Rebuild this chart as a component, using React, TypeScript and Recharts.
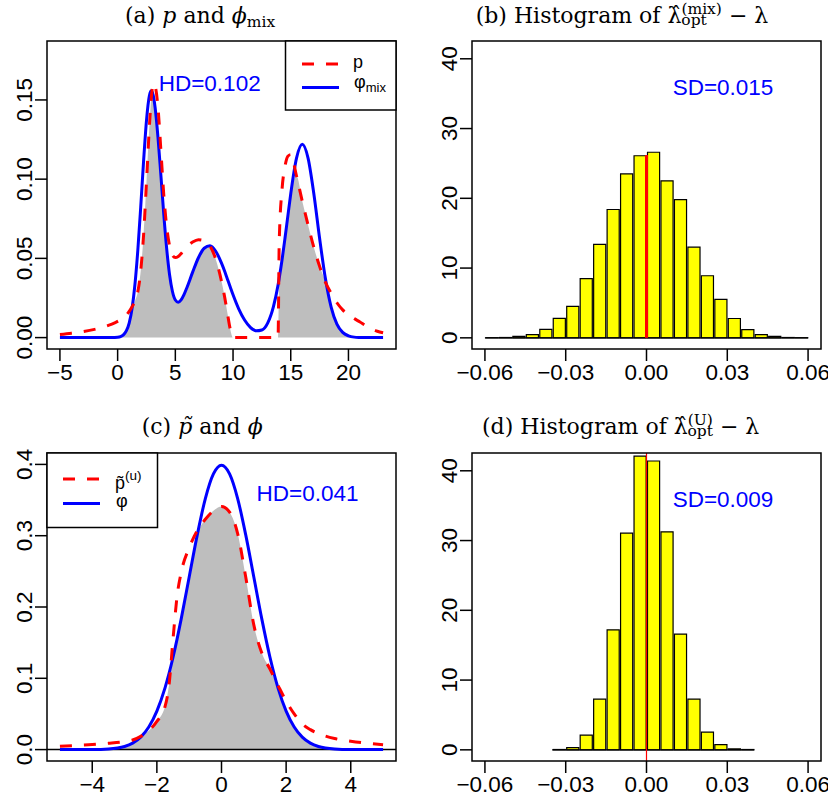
import React from 'react';
import { ComposedChart, Line, Area, Bar, XAxis, YAxis, ReferenceLine } from 'recharts';

const W = 828;
const H = 801;
const SANS = '"Liberation Sans", Arial, Helvetica, sans-serif';
const SERIF = '"DejaVu Serif", "Liberation Serif", serif';

// ---- panel (a): p and phi_mix ----
const xA = [
  -5, -4, -3, -2, -1, -0.5, 0, 0.25, 0.5, 0.75, 1, 1.25, 1.5, 1.75, 2, 2.25, 2.5, 2.75, 2.9, 3, 3.15,
  3.25, 3.5, 3.75, 4, 4.25, 4.5, 4.75, 5, 5.25, 5.5, 5.75, 6, 6.5, 7, 7.5, 8, 8.5, 9, 9.25, 9.5, 9.75,
  10, 10.5, 11, 11.5, 12, 12.5, 13, 13.5, 13.9, 14, 14.25, 14.5, 14.75, 15, 15.5, 16, 16.5, 17, 17.5,
  18, 18.5, 19, 19.5, 20, 20.5, 21, 21.5, 22, 22.5, 23,
];
const pA = [
  0.002, 0.0028, 0.0038, 0.0052, 0.0072, 0.0085, 0.0102, 0.0112, 0.0125, 0.0142, 0.0165, 0.0195, 0.023,
  0.029, 0.042, 0.065, 0.098, 0.133, 0.15, 0.157, 0.1605, 0.159, 0.145, 0.118, 0.09, 0.07, 0.058, 0.052,
  0.0505, 0.0512, 0.053, 0.0552, 0.0573, 0.0603, 0.0618, 0.0612, 0.0578, 0.0495, 0.0355, 0.0265, 0.016,
  0.0055, 0, 0, 0, 0, 0, 0, 0, 0, 0, 0.06, 0.094, 0.108, 0.1145, 0.1155, 0.102, 0.086, 0.071, 0.057,
  0.045, 0.035, 0.028, 0.022, 0.0175, 0.0145, 0.012, 0.0098, 0.0075, 0.0055, 0.004, 0.003,
];
const phiMixA = [
  0, 0, 0, 0, 0, 0, 0.0002, 0.0006, 0.0017, 0.0042, 0.0092, 0.0184, 0.0335, 0.0552, 0.0824, 0.1115,
  0.137, 0.1526, 0.1558, 0.1549, 0.1503, 0.1451, 0.1261, 0.1022, 0.0776, 0.0561, 0.0397, 0.0291, 0.0237,
  0.0223, 0.0238, 0.0271, 0.0315, 0.0413, 0.0504, 0.0564, 0.0579, 0.0545, 0.047, 0.0423, 0.0372, 0.0321,
  0.027, 0.018, 0.0111, 0.0065, 0.0043, 0.0048, 0.0091, 0.0195, 0.0332, 0.0375, 0.0493, 0.0627, 0.0768,
  0.0908, 0.1133, 0.122, 0.1133, 0.0908, 0.0627, 0.0374, 0.0192, 0.0085, 0.0033, 0.0011, 0.0003, 0.0001,
  0, 0, 0, 0,
];

// ---- panel (c): p-tilde and phi ----
const xC = [
  -5, -4.5, -4, -3.5, -3, -2.75, -2.5, -2.25, -2, -1.75, -1.625, -1.5, -1.375, -1.25, -1, -0.75, -0.5,
  -0.25, 0, 0.25, 0.5, 0.75, 1, 1.25, 1.5, 1.75, 2, 2.25, 2.5, 2.75, 3, 3.5, 4, 4.5, 5,
];
const pTildeC = [
  0.0047, 0.0058, 0.007, 0.0088, 0.0113, 0.0135, 0.0185, 0.0265, 0.0395, 0.06, 0.09, 0.155, 0.215, 0.248,
  0.283, 0.307, 0.323, 0.335, 0.341, 0.333, 0.303, 0.242, 0.175, 0.135, 0.113, 0.09, 0.068, 0.05, 0.036,
  0.028, 0.0225, 0.0155, 0.0118, 0.009, 0.0068,
];
const phiC = [
  0, 0, 0.0001, 0.0009, 0.0044, 0.0091, 0.0175, 0.0317, 0.054, 0.0863, 0.1065, 0.1295, 0.155, 0.1826,
  0.242, 0.3011, 0.3521, 0.3867, 0.3989, 0.3867, 0.3521, 0.3011, 0.242, 0.1826, 0.1295, 0.0863, 0.054,
  0.0317, 0.0175, 0.0091, 0.0044, 0.0009, 0.0001, 0, 0,
];

// ---- panel (b): histogram of lambda_opt^(mix) - lambda ----
const edgesB = [
  -0.06, -0.055, -0.05, -0.045, -0.04, -0.035, -0.03, -0.025, -0.02, -0.015, -0.01, -0.005, 0, 0.005,
  0.01, 0.015, 0.02, 0.025, 0.03, 0.035, 0.04, 0.045, 0.05, 0.055, 0.06,
];
const densB = [
  0.02, 0.05, 0.22, 0.45, 1.22, 2.8, 4.5, 8.5, 13.4, 18.4, 23.5, 26.1, 26.6, 22.5, 19.8, 13.0, 8.9, 5.5,
  2.77, 1.19, 0.46, 0.22, 0.05, 0.02,
];
const redTopB = 26.2;

// ---- panel (d): histogram of lambda_opt^(U) - lambda ----
const edgesD = [
  -0.035, -0.03, -0.025, -0.02, -0.015, -0.01, -0.005, 0, 0.005, 0.01, 0.015, 0.02, 0.025, 0.03, 0.035,
  0.04,
];
const densD = [0.05, 0.33, 2.1, 7.26, 17.2, 31.06, 42.1, 41.4, 31.25, 16.6, 7.26, 2.53, 0.76, 0.14, 0.05];

const xTicksA = [-5, 0, 5, 10, 15, 20];
const yTicksA = [0, 0.05, 0.1, 0.15];
const xTicksC = [-4, -2, 0, 2, 4];
const yTicksC = [0, 0.1, 0.2, 0.3, 0.4];
const xTicksHist = [-0.06, -0.03, 0, 0.03, 0.06];
const yTicksHist = [0, 10, 20, 30, 40];

const hdA = 'HD=0.102';
const sdB = 'SD=0.015';
const hdC = 'HD=0.041';
const sdD = 'SD=0.009';

const curveRows = (xs: number[], p: number[], phi: number[]) =>
  xs.map((x, i) => ({ x, p: p[i], phi: phi[i], lo: Math.min(p[i], phi[i]) }));
const binRows = (edges: number[], dens: number[]) =>
  dens.map((d, i) => ({ mid: (edges[i] + edges[i + 1]) / 2, dens: d }));

const rowsA = curveRows(xA, pA, phiMixA);
const rowsC = curveRows(xC, pTildeC, phiC);
const rowsB = binRows(edgesB, densB);
const rowsD = binRows(edgesD, densD);

type Box = { x1: number; x2: number; y1: number; y2: number };
const boxA: Box = { x1: 47, x2: 396, y1: 41, y2: 349 };
const boxB: Box = { x1: 472, x2: 821, y1: 41, y2: 349 };
const boxC: Box = { x1: 47, x2: 396, y1: 453, y2: 761 };
const boxD: Box = { x1: 472, x2: 821, y1: 453, y2: 761 };
const XH = 40;

const chartMargin = (b: Box) => ({ top: b.y1, right: W - b.x2, bottom: H - b.y2 - XH, left: 0 });

const minus = (s: string) => s.replace('-', '\u2212');
const fmtInt = (v: number) => minus(String(v));
const fmt1 = (v: number) => minus(v.toFixed(1));
const fmt2 = (v: number) => minus(v.toFixed(2));

const tickLine = { stroke: '#000', strokeWidth: 1.5 };
const xTick = { fill: '#000', fontSize: 22.5, fontFamily: SANS };

const RotTick = (props: any) => {
  const { x, y, payload, fmt } = props;
  return (
    <text
      x={x}
      y={y}
      transform={`rotate(-90 ${x} ${y})`}
      textAnchor="middle"
      fontSize={22.5}
      fontFamily={SANS}
      fill="#000"
    >
      {fmt(payload.value)}
    </text>
  );
};

const layer: React.CSSProperties = { position: 'absolute', left: 0, top: 0 };

function DensityPanel({ box, rows, xDomain, yDomain, xTicks, yTicks, fmtX, fmtY, zeroLine }: any) {
  return (
    <div style={layer}>
      <ComposedChart width={W} height={H} data={rows} margin={chartMargin(box)}>
        <XAxis
          dataKey="x"
          type="number"
          domain={xDomain}
          allowDataOverflow
          ticks={xTicks}
          interval={0}
          tickFormatter={fmtX}
          height={XH}
          axisLine={false}
          tickLine={tickLine}
          tickSize={12}
          tickMargin={3}
          tick={xTick}
        />
        <YAxis
          type="number"
          domain={yDomain}
          allowDataOverflow
          ticks={yTicks}
          interval={0}
          width={box.x1}
          axisLine={false}
          tickLine={tickLine}
          tickSize={12}
          tickMargin={3}
          tick={<RotTick fmt={fmtY} />}
        />
        <Area
          dataKey="lo"
          type="monotone"
          fill="#bebebe"
          fillOpacity={1}
          stroke="none"
          baseValue={0}
          isAnimationActive={false}
        />
        {zeroLine && <ReferenceLine y={0} stroke="#000" strokeWidth={1.5} />}
        <Line
          dataKey="phi"
          type="monotone"
          stroke="#0000ff"
          strokeWidth={3}
          dot={false}
          isAnimationActive={false}
        />
        <Line
          dataKey="p"
          type="monotone"
          stroke="#ff0000"
          strokeWidth={3}
          strokeDasharray="12 12"
          dot={false}
          isAnimationActive={false}
        />
      </ComposedChart>
    </div>
  );
}

function HistPanel({ box, rows, edges, redTop }: any) {
  return (
    <div style={layer}>
      <ComposedChart
        width={W}
        height={H}
        data={rows}
        margin={chartMargin(box)}
        barCategoryGap={0}
        barGap={0}
      >
        <XAxis
          dataKey="mid"
          type="number"
          domain={[-0.0648, 0.0648]}
          allowDataOverflow
          ticks={xTicksHist}
          interval={0}
          tickFormatter={fmt2}
          height={XH}
          axisLine={false}
          tickLine={tickLine}
          tickSize={12}
          tickMargin={3}
          tick={xTick}
        />
        <YAxis
          type="number"
          domain={[-1.6, 42.55]}
          allowDataOverflow
          ticks={yTicksHist}
          interval={0}
          width={box.x1}
          axisLine={false}
          tickLine={tickLine}
          tickSize={12}
          tickMargin={3}
          tick={<RotTick fmt={fmtInt} />}
        />
        <Bar
          dataKey="dens"
          fill="#ffff00"
          stroke="#000"
          strokeWidth={1.2}
          barSize={'99.9%' as any}
          isAnimationActive={false}
        />
        <ReferenceLine
          segment={[
            { x: edges[0], y: 0 },
            { x: edges[edges.length - 1], y: 0 },
          ]}
          stroke="#000"
          strokeWidth={1.2}
        />
        {redTop != null ? (
          <ReferenceLine
            segment={[
              { x: 0, y: 0 },
              { x: 0, y: redTop },
            ]}
            stroke="#ff0000"
            strokeWidth={3}
          />
        ) : (
          <ReferenceLine x={0} stroke="#ff0000" strokeWidth={1.2} />
        )}
      </ComposedChart>
    </div>
  );
}

function Overlay() {
  const boxes = [boxA, boxB, boxC, boxD];
  return (
    <svg width={W} height={H} style={{ ...layer, pointerEvents: 'none' }}>
      {boxes.map((b, i) => (
        <rect
          key={i}
          x={b.x1}
          y={b.y1}
          width={b.x2 - b.x1}
          height={b.y2 - b.y1}
          fill="none"
          stroke="#000"
          strokeWidth={1.5}
        />
      ))}

      {/* titles */}
      <g fontFamily={SERIF} fontSize={22} fill="#000">
        <text x={125} y={22.5}>
          (a){' '}
          <tspan fontStyle="italic">p</tspan>
          {' and '}
          <tspan fontStyle="italic">{'\u03D5'}</tspan>
          <tspan fontSize={15.5} dy={4}>
            mix
          </tspan>
        </text>
        <text x={475.7} y={22.5}>
          {'(b) Histogram of \u03BB\u0302'}
          <tspan fontSize={15.5} dy={-8.5}>
            (mix)
          </tspan>
          <tspan fontSize={15.5} dx={-40.6} dy={11}>
            opt
          </tspan>
          <tspan dx={15.1} dy={-2.5}>
            {' \u2212 \u03BB'}
          </tspan>
        </text>
        <text x={141.7} y={433.5}>
          (c){' '}
          <tspan fontStyle="italic">{'p\u0303'}</tspan>
          {' and '}
          <tspan fontStyle="italic">{'\u03D5'}</tspan>
        </text>
        <text x={482} y={433.5}>
          {'(d) Histogram of \u03BB\u0302'}
          <tspan fontSize={15.5} dy={-8.5}>
            (U)
          </tspan>
          <tspan fontSize={15.5} dx={-25.5} dy={11}>
            opt
          </tspan>
          <tspan dx={0} dy={-2.5}>
            {' \u2212 \u03BB'}
          </tspan>
        </text>
      </g>

      {/* annotations */}
      <g fontFamily={SANS} fontSize={22.5} fill="#0000ff" textAnchor="middle">
        <text x={209.7} y={90.7}>{hdA}</text>
        <text x={723} y={95}>{sdB}</text>
        <text x={307.5} y={500.7}>{hdC}</text>
        <text x={723} y={506.7}>{sdD}</text>
      </g>

      {/* legend (a) */}
      <rect x={285.5} y={41} width={110.5} height={69} fill="#fff" stroke="#000" strokeWidth={1.5} />
      <line x1={302} x2={339} y1={64} y2={64} stroke="#ff0000" strokeWidth={3} strokeDasharray="12 12" />
      <line x1={302} x2={339} y1={87.5} y2={87.5} stroke="#0000ff" strokeWidth={3} />
      <g fontFamily={SANS} fontSize={18} fill="#000">
        <text x={353} y={68}>p</text>
        <text x={354} y={88}>
          {'\u03C6'}
          <tspan fontSize={13} dy={3.7}>
            mix
          </tspan>
        </text>
      </g>

      {/* legend (c) */}
      <rect x={47} y={453} width={110.5} height={74.5} fill="#fff" stroke="#000" strokeWidth={1.5} />
      <line x1={63} x2={100} y1={479} y2={479} stroke="#ff0000" strokeWidth={3} strokeDasharray="12 12" />
      <line x1={63} x2={100} y1={503.5} y2={503.5} stroke="#0000ff" strokeWidth={3} />
      <g fontFamily={SANS} fontSize={18} fill="#000">
        <text x={115} y={489}>
          {'p\u0303'}
          <tspan fontSize={13.5} dy={-9}>
            (u)
          </tspan>
        </text>
        <text x={116} y={507}>{'\u03C6'}</text>
      </g>
    </svg>
  );
}

export default function App() {
  return (
    <div style={{ position: 'absolute', left: 0, top: 0, width: W, height: H, background: '#fff' }}>
      <DensityPanel
        box={boxA}
        rows={rowsA}
        xDomain={[-6.12, 24.12]}
        yDomain={[-0.0072, 0.1872]}
        xTicks={xTicksA}
        yTicks={yTicksA}
        fmtX={fmtInt}
        fmtY={fmt2}
        zeroLine={false}
      />
      <HistPanel box={boxB} rows={rowsB} edges={edgesB} redTop={redTopB} />
      <DensityPanel
        box={boxC}
        rows={rowsC}
        xDomain={[-5.4, 5.4]}
        yDomain={[-0.016, 0.416]}
        xTicks={xTicksC}
        yTicks={yTicksC}
        fmtX={fmtInt}
        fmtY={fmt1}
        zeroLine={true}
      />
      <HistPanel box={boxD} rows={rowsD} edges={edgesD} redTop={null} />
      <Overlay />
    </div>
  );
}
